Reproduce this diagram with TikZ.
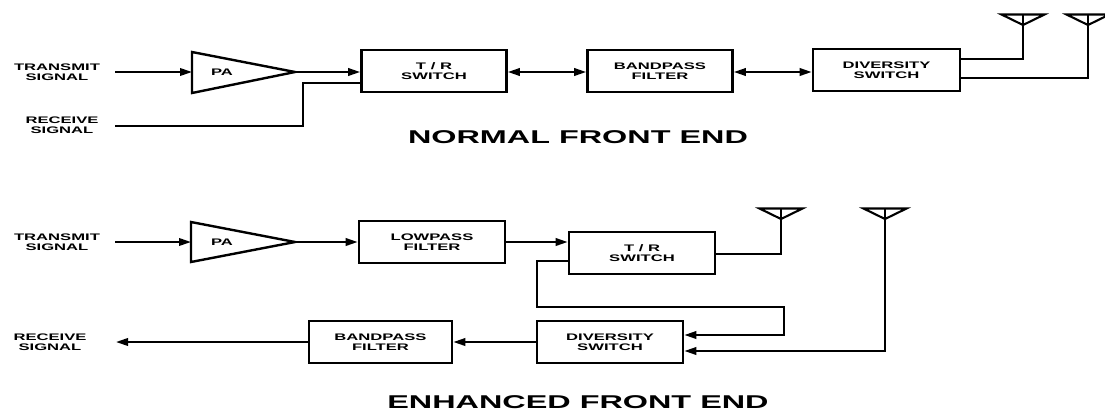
\documentclass[tikz,border=0pt]{standalone}
\usepackage{fontspec}
\setmainfont{Liberation Sans}
\newfontfamily\lbl{Liberation Sans}[FakeStretch=1.75]
\usetikzlibrary{arrows.meta,calc}
\begin{document}
\begin{tikzpicture}[x=1pt,y=-1pt,
  ln/.style={line width=2.1pt, line join=miter},
  box/.style={draw, line width=2.7pt, minimum width=145pt, minimum height=42pt, inner sep=0pt, align=center,
    font=\lbl\bfseries\fontsize{9.5}{10}\selectfont},
  lab/.style={align=center, inner sep=0pt, font=\lbl\bfseries\fontsize{9.5}{10}\selectfont},
  ttl/.style={inner sep=0pt, font=\lbl\bfseries\fontsize{18.5}{20}\selectfont},
  arr/.style={ln, -{Triangle[length=12pt,width=7.5pt]}},
  darr/.style={ln, {Triangle[length=12pt,width=7.5pt]}-{Triangle[length=12pt,width=7.5pt]}},
  ant/.pic={\draw[line width=2.1pt, line join=miter] (-21.5,-10.5) -- (21.5,-10.5) -- (0,0) -- cycle;
            \draw[line width=2.1pt] (0,-10.5) -- (0,0);}
]
\useasboundingbox (0,0) rectangle (1105,413);

% ---------------- NORMAL FRONT END ----------------
\node[lab] (ts1) at (57,72) {TRANSMIT\\SIGNAL};
\node[lab] (rs1) at (62,125) {RECEIVE\\SIGNAL};
\coordinate (ts1a) at (115,72);
\coordinate (rs1a) at (115,126);
\draw[ln, line width=2.4pt] (192,52) -- (295,72) -- (192,93) -- cycle;
\coordinate (pa1w) at (192,72);
\coordinate (pa1e) at (295,72);
\node[lab] (pa1) at (222,72) {PA};
\node[box] (tr1) at (434,71) {T / R\\SWITCH};
\node[box] (bp1) at (660,71) {BANDPASS\\FILTER};
\node[box, minimum width=147pt] (dv1) at (886.5,70) {DIVERSITY\\SWITCH};
\node[ttl] (t1) at (578,137) {NORMAL FRONT END};

\draw[arr] (ts1a) -- (pa1w);
\draw[arr] (pa1e) -- (tr1.west |- pa1e);
\coordinate (r1) at (303,126);
\coordinate (r2) at (303,83);
\draw[ln] (rs1a) -- (r1) -- (r2) -- (tr1.west |- r2);
\draw[darr] (tr1.east |- pa1e) -- (bp1.west |- pa1e);
\draw[darr] (bp1.east |- pa1e) -- (dv1.west |- pa1e);

\pic at (1023,25) {ant};
\pic at (1088,25) {ant};
\coordinate (a1) at (1023,25);
\coordinate (a2) at (1088,25);
\coordinate (j1) at (1023,59);
\coordinate (j2) at (1088,78);
\draw[ln] (a1) -- (j1) -- (dv1.east |- j1);
\draw[ln] (a2) -- (j2) -- (dv1.east |- j2);

% ---------------- ENHANCED FRONT END ----------------
\node[lab] (ts2) at (57,242) {TRANSMIT\\SIGNAL};
\node[lab] (rs2) at (50,342) {RECEIVE\\SIGNAL};
\coordinate (ts2a) at (115,242);
\coordinate (rs2a) at (116,342);
\draw[ln, line width=2.4pt] (191,222) -- (295,242) -- (191,262) -- cycle;
\coordinate (pa2w) at (191,242);
\coordinate (pa2e) at (295,242);
\node[lab] (pa2) at (222,242) {PA};
\node[box, minimum width=146pt] (lp2) at (432,242) {LOWPASS\\FILTER};
\node[box, minimum width=146pt] (tr2) at (642,253) {T / R\\SWITCH};
\node[box, minimum width=146pt] (dv2) at (610,342) {DIVERSITY\\SWITCH};
\node[box, minimum width=143pt] (bp2) at (380.5,342) {BANDPASS\\FILTER};
\node[ttl] (t2) at (578,402) {ENHANCED FRONT END};

\draw[arr] (ts2a) -- (pa2w);
\draw[arr] (pa2e) -- (lp2.west);
\draw[arr] (lp2.east) -- (tr2.west |- lp2.east);

\pic at (781,219) {ant};
\pic at (885,219) {ant};
\coordinate (a3) at (781,219);
\coordinate (a4) at (885,219);
\coordinate (j3) at (781,254);
\coordinate (j4) at (885,351);
\draw[ln] (a3) -- (j3) -- (tr2.east |- j3);
\draw[arr] (a4) -- (j4) -- (dv2.east |- j4);

\coordinate (l1) at (537,261);
\coordinate (l2) at (537,307);
\coordinate (l3) at (784,307);
\coordinate (l4) at (784,335);
\draw[arr] (tr2.west |- l1) -- (l1) -- (l2) -- (l3) -- (l4) -- (dv2.east |- l4);

\draw[arr] (dv2.west) -- (bp2.east);
\draw[arr] (bp2.west) -- (rs2a);
\end{tikzpicture}
\end{document}
